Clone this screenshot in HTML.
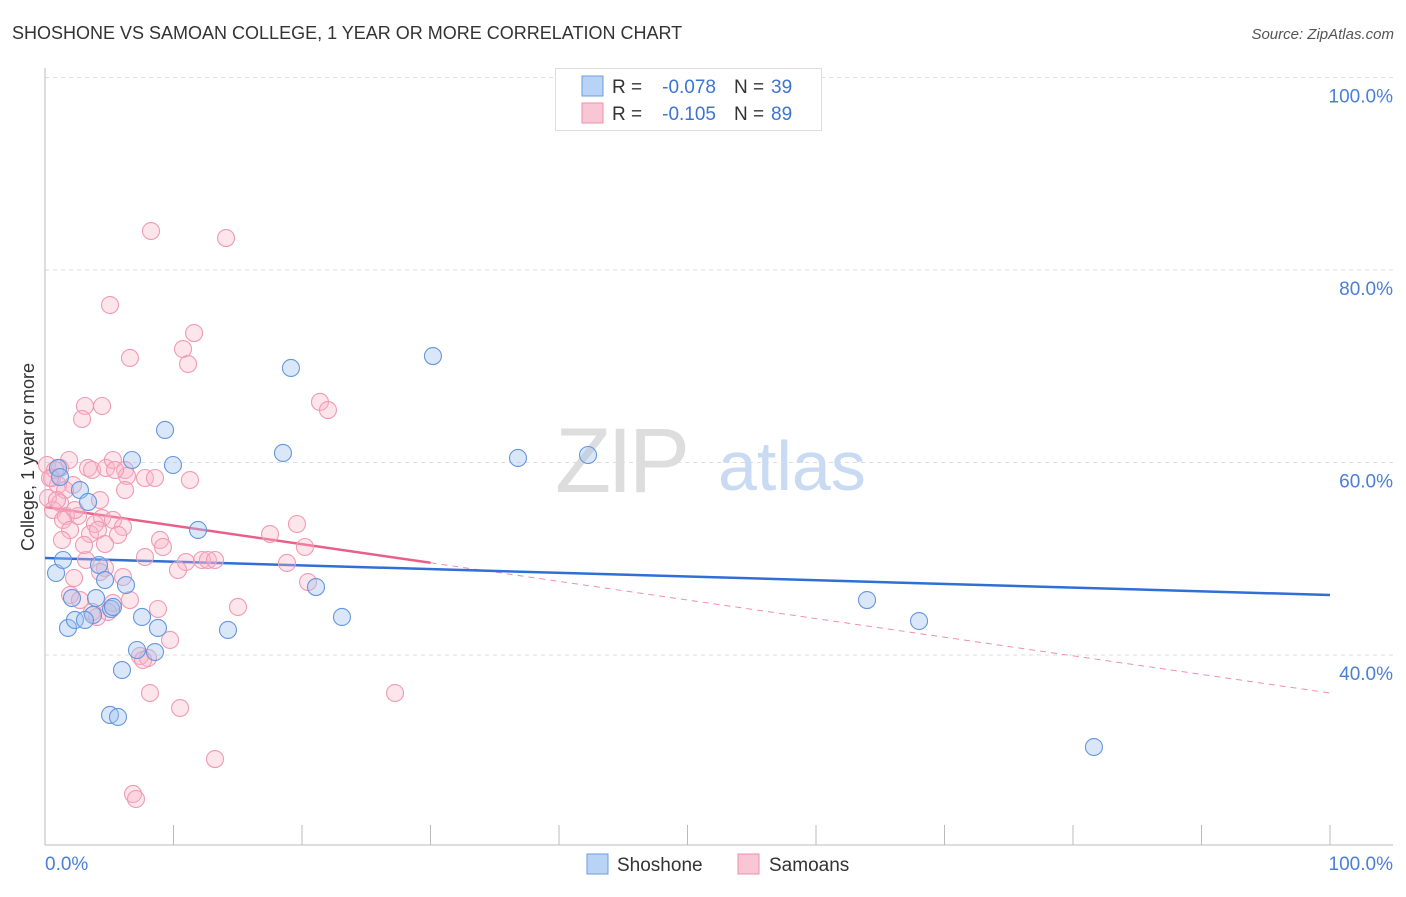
<!DOCTYPE html>
<html><head><meta charset="utf-8"><style>
body{margin:0;background:#fff;font-family:"Liberation Sans",sans-serif}
svg text{font-family:"Liberation Sans",sans-serif}
</style></head><body>
<svg id="chart" width="1406" height="892" xmlns="http://www.w3.org/2000/svg">
<text x="12" y="39" font-size="18" fill="#333">SHOSHONE VS SAMOAN COLLEGE, 1 YEAR OR MORE CORRELATION CHART</text>
<text x="1394" y="39" font-size="15" fill="#555" font-style="italic" text-anchor="end">Source: ZipAtlas.com</text>
<text transform="translate(34,457) rotate(-90)" font-size="18" fill="#333" text-anchor="middle">College, 1 year or more</text>
<g id="grid"></g>
<g><text x="555" y="492" font-size="92" fill="#ddd" font-family="Liberation Serif" letter-spacing="-4">ZIP</text><text x="718" y="490" font-size="70" fill="#c9daf3">atlas</text></g>
<g id="axes"></g>
<g id="trends"></g>
<g id="pts"></g>
<g>
<rect x="555.5" y="68.5" width="266" height="62" fill="#fff" stroke="#ddd"/>
<rect x="582" y="76" width="21" height="20" fill="#b8d3f5" stroke="#6b9de0"/>
<text x="612" y="93" font-size="19" fill="#333">R =</text>
<text x="716" y="93" font-size="19" fill="#3b74d6" text-anchor="end">-0.078</text>
<text x="734" y="93" font-size="19" fill="#333">N =</text>
<text x="771" y="93" font-size="19" fill="#3b74d6">39</text>
<rect x="582" y="103" width="21" height="20" fill="#f9c6d5" stroke="#ef8fab"/>
<text x="612" y="120" font-size="19" fill="#333">R =</text>
<text x="716" y="120" font-size="19" fill="#3b74d6" text-anchor="end">-0.105</text>
<text x="734" y="120" font-size="19" fill="#333">N =</text>
<text x="771" y="120" font-size="19" fill="#3b74d6">89</text>
</g>
<g>
<rect x="587" y="854" width="21" height="20" fill="#b8d3f5" stroke="#6b9de0"/>
<text x="617" y="871" font-size="19" fill="#333">Shoshone</text>
<rect x="738" y="854" width="21" height="20" fill="#f9c6d5" stroke="#ef8fab"/>
<text x="769" y="871" font-size="19" fill="#333">Samoans</text>
</g>
</svg>
<script>
const shoshoneX=[0.86,1.01,1.40,1.79,2.10,2.33,2.72,3.35,3.97,4.20,3.74,4.67,5.06,5.68,5.99,6.30,6.77,7.16,7.55,8.56,8.79,9.34,9.96,11.91,14.24,18.52,19.14,21.09,23.11,30.19,36.81,42.26,63.97,68.02,81.63,5.14,3.11,5.29,1.17];
const shoshoneY=[48.52,59.43,49.87,42.81,45.92,43.64,57.14,55.90,45.92,49.35,44.16,47.79,33.77,33.56,38.44,47.27,60.26,40.52,43.95,40.31,42.81,63.38,59.74,52.99,42.60,60.99,69.82,47.06,43.95,71.06,60.47,60.78,45.71,43.53,30.44,44.78,43.64,44.99,58.49];
const samoanX=[8.25,14.09,5.06,11.60,10.74,6.61,11.13,3.11,4.44,2.88,21.40,22.02,1.87,0.16,1.17,3.35,3.66,4.75,5.29,6.23,7.78,8.56,11.28,6.38,0.54,1.01,2.18,1.56,0.23,1.17,0.62,1.63,2.57,4.44,1.40,3.89,5.29,6.07,3.50,4.12,1.95,5.68,4.67,19.61,17.51,20.23,8.95,9.18,7.78,3.19,4.67,12.22,12.68,10.97,10.35,18.83,6.07,2.26,4.28,1.95,2.72,5.29,8.79,15.02,4.90,4.05,6.61,20.47,9.73,7.39,8.02,8.17,10.51,27.24,13.23,6.85,7.08,0.78,5.45,0.39,1.32,3.04,6.23,0.93,3.66,7.63,13.23,2.33,4.28];
const samoanY=[84.05,83.32,76.36,73.45,71.79,70.86,70.23,65.87,65.87,64.52,66.29,65.45,60.26,59.74,59.43,59.43,59.22,59.43,60.26,59.22,58.39,58.39,58.18,58.60,58.39,57.66,57.66,57.14,56.31,55.79,55.06,54.44,54.44,54.23,54.03,53.61,54.03,53.30,52.57,52.99,52.99,52.47,51.53,53.61,52.57,51.22,51.95,51.22,50.18,49.87,49.04,49.87,49.87,49.66,48.83,49.56,48.10,48.00,48.62,46.23,45.71,45.40,44.78,44.99,44.47,43.95,45.71,47.58,41.56,39.90,39.69,36.05,34.49,36.05,29.19,25.56,25.04,59.22,59.22,58.39,51.95,51.43,57.14,56.10,44.47,39.48,49.87,55.06,56.10];
const yTicks=[100,80,60,40];
const yTickLabels=["100.0%","80.0%","60.0%","40.0%"];
const blueTrend=[50.08,46.23];
const pinkTrend=[55.38,36.05];
const pinkSolidEnd=30;

const NS="http://www.w3.org/2000/svg";
const xs=v=>45+v*12.85, ys=v=>655-(v-40)*9.625;
function mk(tag,attrs,parent){const e=document.createElementNS(NS,tag);for(const k in attrs)e.setAttribute(k,attrs[k]);parent.appendChild(e);return e;}
const grid=document.getElementById('grid'),axes=document.getElementById('axes'),tr=document.getElementById('trends'),pts=document.getElementById('pts');
yTicks.forEach((t,i)=>{
 const l=mk('line',{x1:45,x2:1393,y1:ys(t),y2:ys(t),stroke:'#ddd','stroke-dasharray':'4,4'},grid);
 
 
 const tx=mk('text',{x:1393,y:ys(t)+25,'font-size':19,fill:'#4a7fd8','text-anchor':'end'},grid);
 tx.textContent=yTickLabels[i];
 
 
});
mk('line',{x1:45,x2:45,y1:68,y2:845,stroke:'#bbb'},axes);
mk('line',{x1:45,x2:1393,y1:845,y2:845,stroke:'#bbb'},axes);
for(let i=1;i<=10;i++){const x=xs(i*10);const t=mk('line',{x1:x,x2:x,y1:825,y2:845,stroke:'#bbb'},axes);}
const x0=mk('text',{x:45,y:870,'font-size':19,fill:'#4a7fd8'},axes);x0.textContent='0.0%';


const x1=mk('text',{x:1393,y:870,'font-size':19,fill:'#4a7fd8','text-anchor':'end'},axes);x1.textContent='100.0%';


function drawPts(X,Y,fill,stroke,name){X.forEach((x,i)=>{const c=mk('circle',{cx:xs(x),cy:ys(Y[i]),r:8.5,fill:fill,stroke:stroke,'stroke-width':1.1},pts);
 
 });}
drawPts(samoanX,samoanY,'rgba(248,180,200,0.35)','#f09ab4','samoan-point');
drawPts(shoshoneX,shoshoneY,'rgba(160,196,240,0.4)','#6596de','shoshone-point');
const pAt=x=>pinkTrend[0]+(pinkTrend[1]-pinkTrend[0])*x/100;
const pd=mk('line',{x1:xs(pinkSolidEnd),y1:ys(pAt(pinkSolidEnd)),x2:xs(100),y2:ys(pinkTrend[1]),stroke:'#ef8fab','stroke-dasharray':'6,5','stroke-width':1},tr);


const bl=mk('line',{x1:xs(0),y1:ys(blueTrend[0]),x2:xs(100),y2:ys(blueTrend[1]),stroke:'#2f6fd6','stroke-width':2.5},tr);


const ps=mk('line',{x1:xs(0),y1:ys(pinkTrend[0]),x2:xs(pinkSolidEnd),y2:ys(pAt(pinkSolidEnd)),stroke:'#e8608a','stroke-width':2.5},tr);


</script>
</body></html>
